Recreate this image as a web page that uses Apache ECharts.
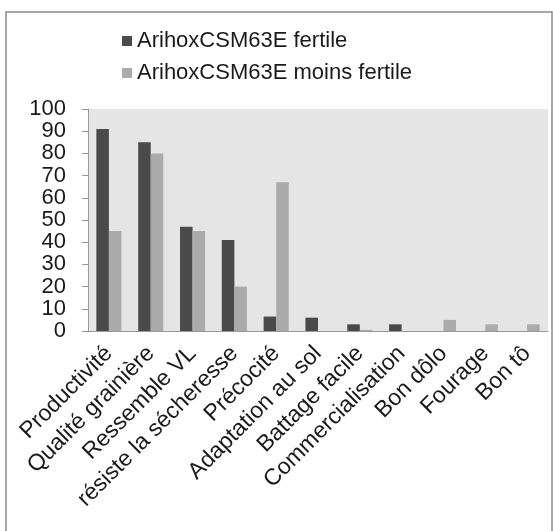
<!DOCTYPE html>
<html>
<head>
<meta charset="utf-8">
<script src="https://cdn.jsdelivr.net/npm/echarts@6/dist/echarts.min.js"></script>
<style>
  html, body { margin: 0; padding: 0; background: #fff; }
  #chart { width: 553px; height: 531px; }
</style>
</head>
<body>
<div id="chart"></div>
<script>
const categories = [
  'Productivité', 'Qualité grainière', 'Ressemble VL', 'résiste la sécheresse',
  'Précocité', 'Adaptation au sol', 'Battage facile', 'Commercialisation',
  'Bon dôlo', 'Fourage', 'Bon tô'
]
const fertile = [91, 85, 47, 41, 6.5, 6, 3, 3, 0, 0, 0]
const moinsFertile = [45, 80, 45, 20, 67, 0, 0.5, 0, 5, 3, 3]
const yTicks = { min: 0, max: 100, interval: 10 }

const chart = echarts.init(document.getElementById('chart'))
const font = 'Liberation Sans, Arial, sans-serif'

chart.setOption({
  animation: false,
  backgroundColor: '#fff',
  graphic: [{
    type: 'polyline',
    shape: { points: [[6, 531], [6, 12], [552, 12], [552, 531]] },
    style: { stroke: '#8a8a8a', lineWidth: 1.5, fill: null },
  }],
  legend: {
    orient: 'vertical',
    left: 117,
    top: 25,
    itemWidth: 10,
    itemHeight: 10,
    itemGap: 10,
    icon: 'rect',
    textStyle: { fontFamily: font, fontSize: 22, color: '#1a1a1a' },
    data: ['ArihoxCSM63E fertile', 'ArihoxCSM63E moins fertile'],
  },
  grid: { left: 88, right: 5, top: 109, bottom: 200, containLabel: false,
    show: true, backgroundColor: '#e5e5e5', borderWidth: 0 },
  xAxis: {
    type: 'category',
    data: categories,
    axisLine: { lineStyle: { color: '#999' } },
    axisTick: { length: 6, lineStyle: { color: '#999' } },
    axisLabel: {
      interval: 0, rotate: 45, margin: 19,
      fontFamily: font, fontSize: 23, color: '#1a1a1a',
    },
  },
  yAxis: {
    type: 'value',
    ...yTicks,
    splitLine: { show: false },
    axisLine: { show: true, lineStyle: { color: '#999' } },
    axisTick: { show: true, length: 6, lineStyle: { color: '#999' } },
    axisLabel: { fontFamily: font, fontSize: 22, color: '#1a1a1a', margin: 22 },
  },
  series: [
    {
      name: 'ArihoxCSM63E fertile',
      type: 'bar',
      data: fertile,
      barGap: '0%',
      barCategoryGap: '40%',
      itemStyle: { color: '#4a4a4a', borderWidth: 0 },
    },
    {
      name: 'ArihoxCSM63E moins fertile',
      type: 'bar',
      data: moinsFertile,
      itemStyle: { color: '#ababab', borderWidth: 0 },
    },
  ],
})
</script>
</body>
</html>
